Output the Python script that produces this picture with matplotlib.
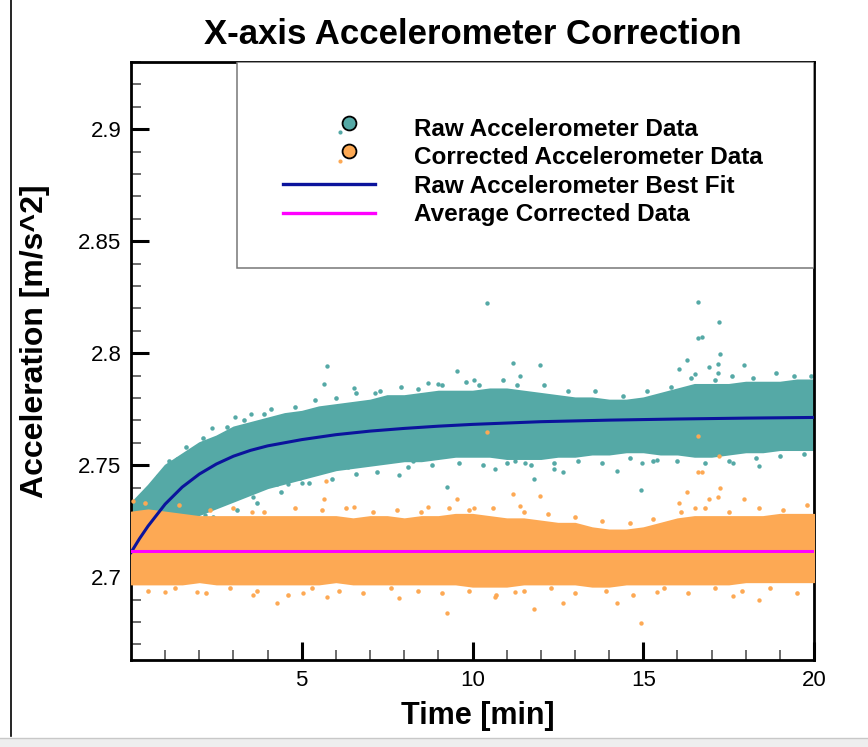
import matplotlib
matplotlib.use("Agg")
import matplotlib.pyplot as plt
from matplotlib.lines import Line2D
from matplotlib.patches import Rectangle
from matplotlib.legend_handler import HandlerLine2D
import numpy as np

plt.rcParams['font.family'] = ['Liberation Sans', 'DejaVu Sans']

# ---- data -------------------------------------------------------------
TITLE = "X-axis Accelerometer Correction"
XLABEL = "Time [min]"
YLABEL = "Acceleration [m/s^2]"
SERIES_NAMES = ["Raw Accelerometer Data", "Corrected Accelerometer Data",
                "Raw Accelerometer Best Fit", "Average Corrected Data"]

x_ticks = [5, 10, 15, 20]
y_ticks = [2.7, 2.75, 2.8, 2.85, 2.9]

# time grid used for the spread of the two point clouds [min]
t_env = np.arange(0, 20.01, 0.5)

raw_upper = [2.733, 2.741, 2.750, 2.755, 2.760, 2.763, 2.767, 2.769, 2.771, 2.773,
             2.774, 2.776, 2.777, 2.778, 2.779, 2.781, 2.781, 2.782, 2.783, 2.783,
             2.783, 2.784, 2.784, 2.783, 2.782, 2.781, 2.780, 2.780, 2.779, 2.779,
             2.780, 2.782, 2.784, 2.786, 2.786, 2.786, 2.787, 2.787, 2.787, 2.788,
             2.788]
raw_lower = [2.702, 2.712, 2.720, 2.724, 2.728, 2.731, 2.734, 2.737, 2.740, 2.742,
             2.744, 2.746, 2.748, 2.749, 2.750, 2.751, 2.752, 2.752, 2.753, 2.754,
             2.754, 2.754, 2.753, 2.753, 2.753, 2.754, 2.754, 2.755, 2.755, 2.756,
             2.756, 2.755, 2.755, 2.754, 2.754, 2.755, 2.756, 2.756, 2.757, 2.757,
             2.757]

cor_upper = [2.729, 2.730, 2.729, 2.728, 2.727, 2.727, 2.727, 2.727, 2.727, 2.727,
             2.727, 2.727, 2.727, 2.726, 2.727, 2.727, 2.726, 2.727, 2.727, 2.728,
             2.728, 2.727, 2.726, 2.726, 2.725, 2.724, 2.724, 2.722, 2.721, 2.721,
             2.722, 2.724, 2.726, 2.727, 2.727, 2.727, 2.727, 2.727, 2.728, 2.728,
             2.728]
cor_lower = [2.697, 2.697, 2.697, 2.697, 2.698, 2.697, 2.697, 2.697, 2.697, 2.697,
             2.697, 2.697, 2.698, 2.697, 2.697, 2.697, 2.697, 2.697, 2.697, 2.697,
             2.696, 2.696, 2.696, 2.697, 2.697, 2.697, 2.697, 2.696, 2.696, 2.697,
             2.697, 2.697, 2.697, 2.697, 2.697, 2.697, 2.698, 2.698, 2.698, 2.698,
             2.698]

# sparse samples along the edges of the dense bands
raw_edge_t = [0.8, 1.1, 1.6, 2.1, 2.8, 3.3, 3.9, 4.1, 4.8, 5.4, 6.0, 6.6, 7.3, 7.9,
              8.4, 9.1, 9.8, 10.2, 10.9, 11.3, 12.1, 12.8, 13.6, 14.4, 15.1, 15.8,
              16.4, 17.1, 17.6, 18.2, 18.9, 19.4, 19.9,
              1.2, 1.8, 2.4, 3.1, 3.7, 4.4, 5.2, 5.9, 6.6, 7.2, 8.1, 8.8, 9.6, 10.3,
              11.0, 11.7, 12.4, 13.1, 13.8, 14.6, 15.3, 16.0, 16.8, 17.5, 18.3, 19.0,
              19.7]
raw_edge_y = [2.745, 2.752, 2.758, 2.762, 2.767, 2.770, 2.773, 2.775, 2.776, 2.779,
              2.780, 2.782, 2.783, 2.785, 2.784, 2.786, 2.787, 2.786, 2.788, 2.786,
              2.786, 2.783, 2.783, 2.781, 2.783, 2.785, 2.789, 2.788, 2.790, 2.789,
              2.791, 2.790, 2.790,
              2.718, 2.722, 2.727, 2.730, 2.733, 2.738, 2.742, 2.744, 2.746, 2.747,
              2.749, 2.750, 2.751, 2.750, 2.751, 2.750, 2.751, 2.752, 2.751, 2.753,
              2.752, 2.752, 2.751, 2.752, 2.753, 2.754, 2.755]

cor_edge_t = [0.4, 1.4, 2.3, 3.0, 3.9, 4.8, 5.6, 6.3, 7.1, 7.8, 8.5, 9.3, 9.9, 10.6,
              11.5, 12.2, 13.0, 13.8, 14.6, 15.3, 16.1, 16.8, 17.5, 18.4, 19.1, 19.8,
              0.5, 1.3, 2.2, 2.9, 3.7, 4.6, 5.3, 6.1, 6.8, 7.6, 8.4, 9.1, 9.9, 10.7,
              11.5, 12.3, 13.0, 13.9, 14.7, 15.6, 16.3, 17.1, 17.9, 18.7, 19.5]
cor_edge_y = [2.733, 2.732, 2.730, 2.731, 2.729, 2.731, 2.730, 2.731, 2.729, 2.730,
              2.729, 2.731, 2.730, 2.731, 2.729, 2.728, 2.727, 2.725, 2.724, 2.726,
              2.729, 2.731, 2.729, 2.731, 2.730, 2.732,
              2.694, 2.695, 2.693, 2.695, 2.694, 2.692, 2.695, 2.694, 2.693, 2.695,
              2.694, 2.693, 2.694, 2.692, 2.694, 2.695, 2.693, 2.694, 2.692, 2.695,
              2.693, 2.695, 2.694, 2.695, 2.693]

# isolated samples far outside the dense bands
raw_out_t = [2.37, 1.96, 1.35, 0.50, 0.23, 3.05, 3.51, 2.69, 2.17, 3.57, 4.28, 4.60,
             4.28, 4.95, 5.74, 5.65, 6.53, 9.55, 8.70, 8.99, 7.85, 9.25, 5.00, 6.12,
             6.35, 8.26, 9.40, 7.14, 10.42, 11.19, 11.98, 11.40, 10.05, 10.66, 11.80,
             12.65, 12.39, 14.23, 14.93, 11.24, 11.54, 16.60, 17.22, 16.60, 16.72,
             17.25, 16.28, 16.05, 16.93, 17.19, 17.95, 16.52, 17.19, 17.63, 18.39,
             15.40, 14.96]
raw_out_y = [2.7667, 2.7578, 2.7529, 2.7390, 2.7300, 2.7716, 2.7729, 2.7330, 2.7276,
             2.7356, 2.7418, 2.7418, 2.7490, 2.7444, 2.7942, 2.7862, 2.7844, 2.7920,
             2.7867, 2.7862, 2.7458, 2.7404, 2.7422, 2.7490, 2.7490, 2.7520, 2.7550,
             2.7822, 2.8222, 2.7956, 2.7947, 2.7898, 2.7880, 2.7484, 2.7436, 2.7471,
             2.7484, 2.7476, 2.7391, 2.7520, 2.7511, 2.8227, 2.8138, 2.8067, 2.8071,
             2.7996, 2.7969, 2.7929, 2.7938, 2.7951, 2.7947, 2.7907, 2.7911, 2.7511,
             2.7498, 2.7524, 2.7511]

cor_out_t = [4.28, 3.57, 1.00, 1.93, 3.54, 0.06, 5.71, 5.65, 6.53, 9.55, 8.70, 9.25,
             7.85, 5.74, 5.04, 10.42, 11.19, 11.98, 11.40, 10.05, 11.80, 10.66, 12.65,
             14.23, 11.24, 16.60, 17.22, 16.60, 16.72, 17.25, 16.28, 16.05, 16.93,
             17.19, 17.95, 16.52, 17.63, 18.39, 15.40, 14.93]
cor_out_y = [2.6884, 2.6920, 2.6933, 2.6933, 2.7289, 2.7342, 2.7427, 2.7347, 2.7311,
             2.7351, 2.7311, 2.6840, 2.6907, 2.6911, 2.6929, 2.7649, 2.7373, 2.7364,
             2.7316, 2.7307, 2.6858, 2.6911, 2.6884, 2.6884, 2.6933, 2.7631, 2.7542,
             2.7471, 2.7471, 2.7396, 2.7378, 2.7333, 2.7347, 2.7356, 2.7347, 2.7307,
             2.6916, 2.6898, 2.6933, 2.6796]

# best-fit curve of the raw signal and mean of the corrected signal
fit_t = [0, 0.25, 0.5, 1, 1.5, 2, 2.5, 3, 3.5, 4, 5, 6, 7, 8, 9, 10, 12, 14, 16, 18, 20]
fit_y = [2.7110, 2.7172, 2.7228, 2.7326, 2.7402, 2.7460, 2.7505, 2.7540, 2.7566,
         2.7586, 2.7614, 2.7636, 2.7652, 2.7664, 2.7674, 2.7682, 2.7694, 2.7701,
         2.7706, 2.7710, 2.7713]
avg_t = [0, 20]
avg_y = [2.7115, 2.7115]

# ---- styling ----------------------------------------------------------
TEAL = "#55a9a6"
ORANGE = "#fda954"
BLUE = "#0b139c"
MAGENTA = "#ff00ff"

W, H = 868, 747
fig = plt.figure(figsize=(W / 100, H / 100), dpi=100)
ax = fig.add_axes([131 / W, 1 - 660 / H, (814 - 131) / W, (660 - 62) / H])

def cloud(upper, lower, edge_t, edge_y, out_t, out_y, color, z):
    ax.fill_between(t_env, lower, upper, color=color, lw=1.5, edgecolor=color, zorder=z)
    ax.scatter(edge_t, edge_y, s=11, color=color, lw=0, zorder=z)
    ax.scatter(out_t, out_y, s=10, color=color, lw=0, zorder=z)

cloud(raw_upper, raw_lower, raw_edge_t, raw_edge_y, raw_out_t, raw_out_y, TEAL, 2)
cloud(cor_upper, cor_lower, cor_edge_t, cor_edge_y, cor_out_t, cor_out_y, ORANGE, 3)

ax.plot(fit_t, fit_y, color=BLUE, lw=2.2, zorder=5)
ax.plot(avg_t, avg_y, color=MAGENTA, lw=2.2, zorder=5)

ax.set_xlim(0, 20)
ax.set_ylim(2.663, 2.9295)
ax.set_xticks(x_ticks)
ax.set_yticks(y_ticks)
ax.set_xticklabels([f"{v:g}" for v in x_ticks])
ax.set_yticklabels([f"{v:g}" for v in y_ticks])
ax.set_xticks(np.arange(1, 20), minor=True)
ax.set_yticks(np.arange(2.67, 2.93, 0.01), minor=True)
ax.tick_params(which='major', direction='in', length=13, width=2.2, labelsize=16,
               pad=7, top=False, right=False)
ax.tick_params(which='minor', direction='in', length=7, width=1.1, color='#444444',
               top=False, right=False)
for sp in ax.spines.values():
    sp.set_linewidth(2.0)

ax.set_title(TITLE, fontsize=25, fontweight='bold', pad=13)
ax.set_xlabel(XLABEL, fontsize=22, fontweight='bold')
ax.set_ylabel(YLABEL, fontsize=23, fontweight='bold')
ax.xaxis.set_label_coords(0.508, -0.068)
ax.yaxis.set_label_coords(-0.119, 0.533)


class ScatterKey(HandlerLine2D):
    """Legend key: a large outlined circle with a small dot at its lower left."""

    def create_artists(self, legend, orig_handle, xdescent, ydescent, width, height,
                       fontsize, trans):
        cx = 0.72 * width - xdescent
        cy = 0.5 * height - ydescent
        big = Line2D([cx], [cy + 0.25 * height], ls='none', marker='o',
                     ms=orig_handle.get_markersize(),
                     mfc=orig_handle.get_markerfacecolor(), mec='black', mew=1.3,
                     transform=trans)
        small = Line2D([cx - 0.1 * width], [cy - 0.3 * height], ls='none',
                       marker='o', ms=3, mfc=orig_handle.get_markerfacecolor(),
                       mec='none', transform=trans)
        return [small, big]


# legend box
ax.add_patch(Rectangle((0.155, 0.6555), 0.845, 0.3445, transform=ax.transAxes,
                       facecolor='white', edgecolor='#777777', lw=1.1, zorder=6))
handles = [
    Line2D([], [], ls='none', marker='o', ms=10, mfc=TEAL),
    Line2D([], [], ls='none', marker='o', ms=10, mfc=ORANGE),
    Line2D([], [], color=BLUE, lw=2.4),
    Line2D([], [], color=MAGENTA, lw=2.4),
]
leg = ax.legend(handles, SERIES_NAMES, loc='upper left', bbox_to_anchor=(0.2225, 0.907),
                frameon=False, prop={'weight': 'bold', 'size': 17.5},
                handlelength=3.8, handletextpad=1.6, labelspacing=0.23,
                borderaxespad=0, borderpad=0,
                handler_map={handles[0]: ScatterKey(), handles[1]: ScatterKey()})
leg.set_zorder(7)

# page border
fig.add_artist(Line2D([11 / W, 11 / W], [1 - 736 / H, 1], transform=fig.transFigure,
                      color='black', lw=1.2))
fig.add_artist(Rectangle((0, 0), 1, 1 - 738 / H, transform=fig.transFigure,
                         facecolor='#eeeeee', edgecolor='none'))
fig.add_artist(Line2D([0, 1], [1 - 738 / H] * 2, transform=fig.transFigure,
                      color='#c8c8c8', lw=1.0))

fig.savefig("out.png", dpi=100)
